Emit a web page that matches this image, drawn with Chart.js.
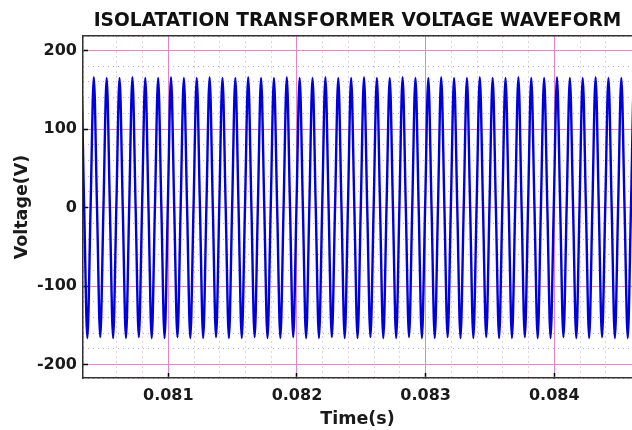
<!DOCTYPE html>
<html>
<head>
<meta charset="utf-8">
<script src="https://cdn.jsdelivr.net/npm/chart.js@4.4.1/dist/chart.umd.min.js"></script>
<style>
  html, body { margin: 0; padding: 0; background: #fff; }
  #wrap { width: 632px; height: 430px; }
</style>
</head>
<body>
<div id="wrap"><canvas id="wave" width="632" height="430"></canvas></div>
<script>
// waveform: time of each positive peak (ms),
// the peak voltage and the following trough voltage
const peakTimes = [
  80.221, 80.321, 80.421, 80.521, 80.621, 80.721, 80.821, 80.921, 81.021, 81.121,
  81.221, 81.321, 81.421, 81.521, 81.621, 81.721, 81.821, 81.921, 82.021, 82.121,
  82.221, 82.321, 82.421, 82.521, 82.621, 82.721, 82.821, 82.921, 83.021, 83.121,
  83.221, 83.321, 83.421, 83.521, 83.621, 83.721, 83.821, 83.921, 84.021, 84.121,
  84.221, 84.321, 84.421, 84.521, 84.621, 84.721
];
const peakValues = [
  165, 165, 166, 165, 165, 166, 165, 165, 166, 165,
  165, 166, 165, 165, 166, 165, 165, 166, 165, 165,
  166, 165, 165, 166, 165, 165, 166, 165, 165, 166,
  165, 165, 166, 165, 165, 166, 165, 165, 166, 165,
  165, 166, 165, 165, 166, 165
];
const troughValues = [
  -166, -166, -165, -166, -166, -165, -166, -166, -165, -166,
  -166, -165, -166, -166, -165, -166, -166, -165, -166, -166,
  -165, -166, -166, -165, -166, -166, -165, -166, -166, -165,
  -166, -166, -165, -166, -166, -165, -166, -166, -165, -166,
  -166, -165, -166, -166, -165, -166
];
const quarterPeriod = 0.025; // ms, 10 kHz

const timeTicks = [81, 82, 83, 84];
const voltTicks = [-200, -100, 0, 100, 200];

// zero crossings sit a quarter period either side of each peak
const points = [];
peakTimes.forEach((t, i) => {
  points.push({ x: t - quarterPeriod, y: 0 });
  points.push({ x: t, y: peakValues[i] });
  points.push({ x: t + quarterPeriod, y: 0 });
  points.push({ x: t + 2 * quarterPeriod, y: troughValues[i] });
});

const boldFont = (size) => ({ family: 'DejaVu Sans', size: size, weight: 'bold' });
const majorGrid = 'rgb(240,130,205)';
const minorGrid = 'rgba(190,140,175,0.8)';

new Chart(document.getElementById('wave'), {
  type: 'line',
  data: {
    datasets: [{
      data: points,
      borderColor: '#0000dc',
      borderWidth: 2.4,
      pointRadius: 0,
      cubicInterpolationMode: 'monotone',
      fill: false
    }]
  },
  options: {
    responsive: false,
    animation: false,
    events: [],
    layout: { padding: 0 },
    plugins: {
      legend: { display: false },
      tooltip: { enabled: false },
      title: {
        display: true,
        fullSize: false,
        text: 'ISOLATATION TRANSFORMER VOLTAGE WAVEFORM',
        color: '#111',
        font: boldFont(18.6),
        padding: { top: 10.5, bottom: 3.2 }
      }
    },
    scales: {
      x: {
        type: 'linear',
        position: 'bottom',
        min: 80.337,
        max: 84.604,
        afterBuildTicks: (s) => { s.ticks = timeTicks.map(v => ({ value: v })); },
        afterFit: (s) => { s.height = 52; },
        ticks: {
          color: '#1a1a1a',
          font: boldFont(16),
          padding: 13,
          maxRotation: 0,
          callback: (v) => (v / 1000).toFixed(3)
        },
        grid: { color: majorGrid, lineWidth: 1, tickColor: '#000', tickLength: -5, tickWidth: 1.5 },
        border: { color: '#333', width: 1.5 },
        title: { display: true, text: 'Time(s)', color: '#1a1a1a', font: boldFont(17.5), padding: { top: 1.5, bottom: 0 } }
      },
      y: {
        type: 'linear',
        position: 'left',
        min: -217,
        max: 218.5,
        afterBuildTicks: (s) => { s.ticks = voltTicks.map(v => ({ value: v })); },
        afterFit: (s) => { s.width = 83; },
        ticks: { color: '#1a1a1a', font: boldFont(16), padding: 11 },
        grid: { color: majorGrid, lineWidth: 1, tickColor: '#000', tickLength: -5, tickWidth: 1.5 },
        border: { color: '#333', width: 1.5 },
        title: { display: true, text: 'Voltage(V)', color: '#1a1a1a', font: boldFont(17.5), padding: { top: 12, bottom: 0 } }
      },
      xMinor: {
        type: 'linear',
        position: 'top',
        min: 80.337,
        max: 84.604,
        ticks: { display: false, stepSize: 0.2 },
        grid: { color: minorGrid, lineWidth: 1, drawTicks: false },
        border: { display: true, color: '#333', width: 1.5, dash: [1, 4] }
      },
      yMinor: {
        type: 'linear',
        position: 'right',
        min: -217,
        max: 218.5,
        ticks: { display: false, stepSize: 20 },
        grid: { color: minorGrid, lineWidth: 1, drawTicks: false },
        border: { display: false, dash: [1, 4] }
      }
    }
  }
});
</script>
</body>
</html>
